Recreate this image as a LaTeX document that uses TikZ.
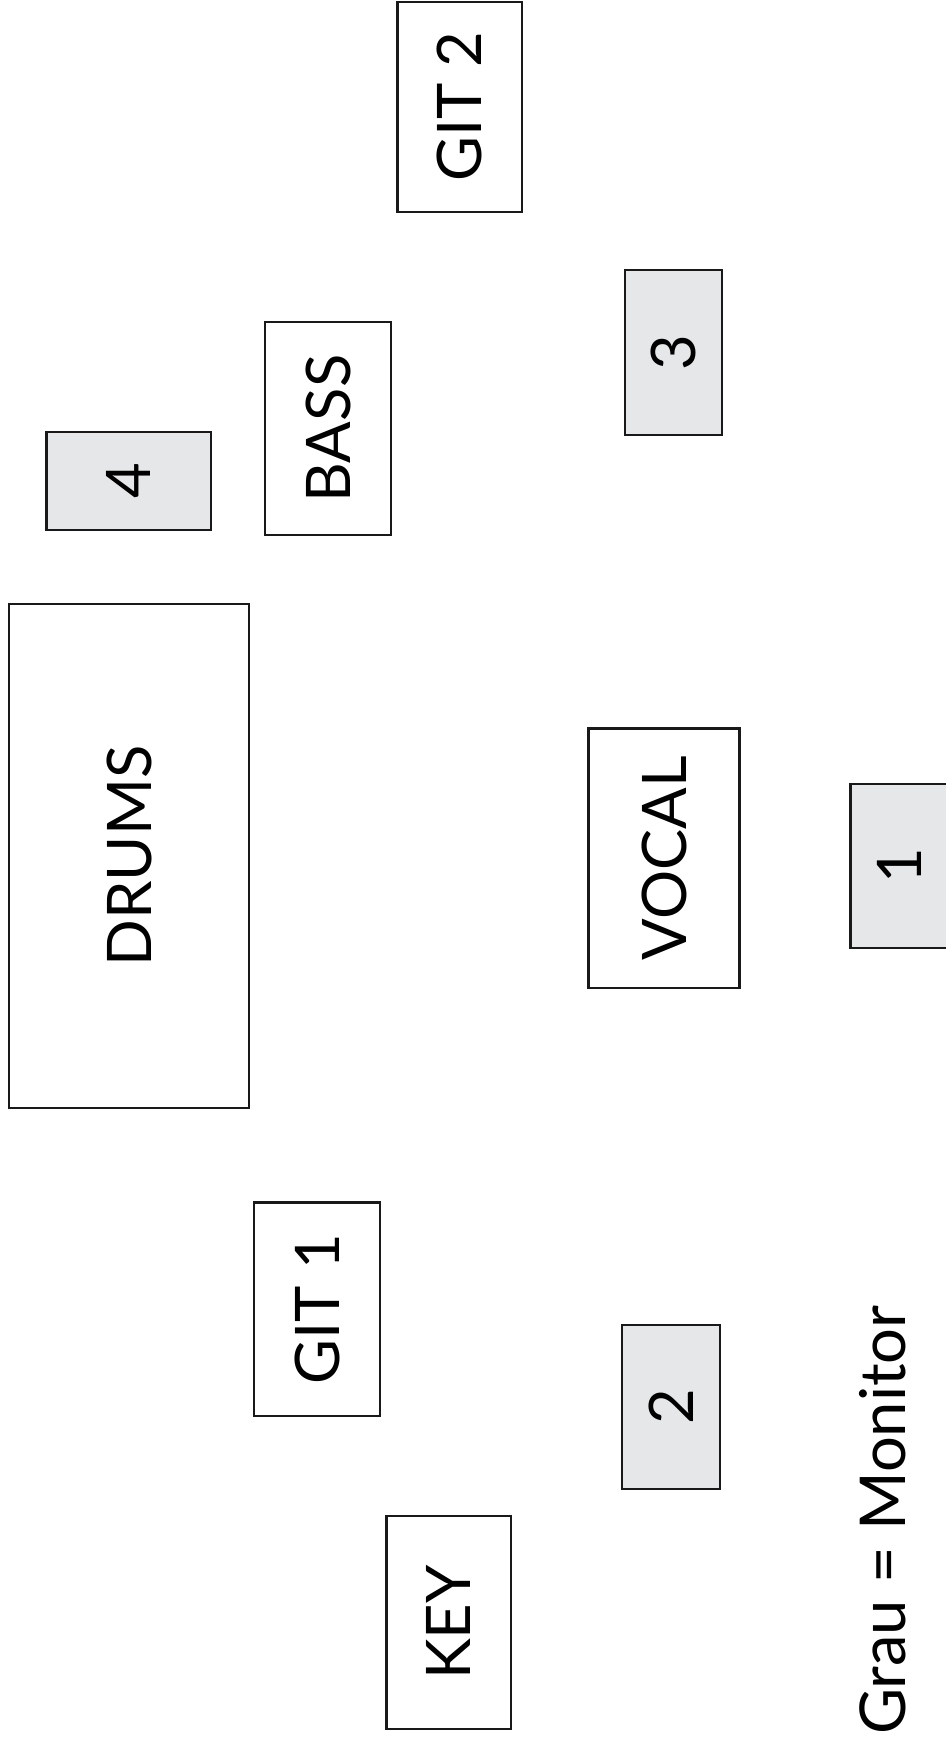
\documentclass[tikz,border=0pt]{standalone}
\usepackage{fontspec}
\setmainfont{Lato}
\usetikzlibrary{positioning}
\definecolor{grau}{RGB}{230,231,232}

\begin{document}
\begin{tikzpicture}
  [spot/.style={draw=black!90,rotate=90,line width=1.4pt,inner sep=0pt,font=\fontsize{35}{40}\selectfont},
  monitor/.style={spot,fill=grau}]
  \useasboundingbox (0,0) rectangle (18.9,34.84);

  % musicians
  \node[spot,minimum width=4.2cm,minimum height=2.49cm] (git2) at (9.195,32.7) {GIT 2};
  \node[spot,minimum width=4.26cm,minimum height=2.52cm] (bass) at (6.56,26.27) {BASS};
  \node[spot,minimum width=10.08cm,minimum height=4.8cm] (drums) at (2.58,17.72) {DRUMS};
  \node[spot,minimum width=5.19cm,minimum height=3.02cm] (vocal) at (13.28,17.675) {VOCAL};
  \node[spot,minimum width=4.27cm,minimum height=2.52cm] (git1) at (6.34,8.655) {GIT 1};
  \node[spot,minimum width=4.26cm,minimum height=2.49cm] (key) at (8.975,2.39) {KEY};

  % monitors
  \node[monitor,minimum width=3.3cm,minimum height=1.94cm] (mon3) at (13.47,27.79) {3};
  \node[monitor,minimum width=1.96cm,minimum height=3.29cm] (mon4) at (2.575,25.22) {4};
  \node[monitor,minimum width=3.28cm,minimum height=1.94cm] (mon1) at (17.98,17.52) {1};
  \node[monitor,minimum width=3.28cm,minimum height=1.96cm] (mon2) at (13.42,6.7) {2};

  \node[rotate=90,anchor=base east,inner sep=0pt,font=\fontsize{36}{40}\selectfont] (legend) at (18.1,8.74) {Grau = Monitor};
\end{tikzpicture}
\end{document}
